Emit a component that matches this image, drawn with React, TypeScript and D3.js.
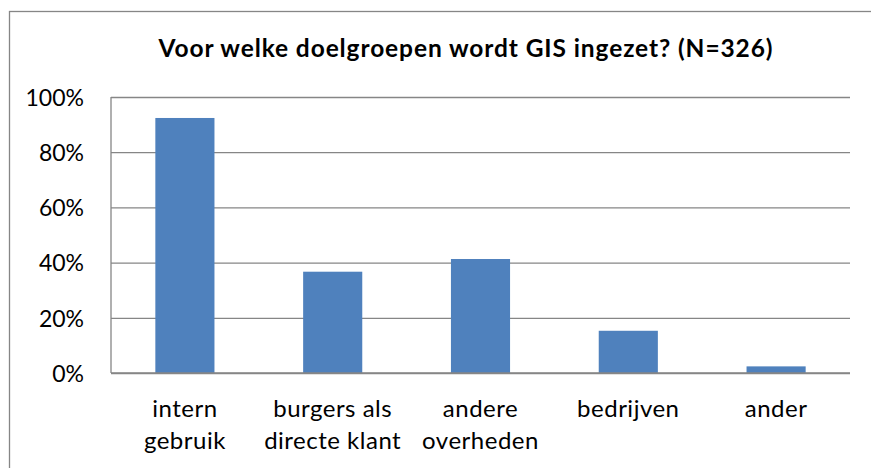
import React, { useEffect, useRef } from "react";
import * as d3 from "d3";

const categories = [
  ["intern", "gebruik"],
  ["burgers als", "directe klant"],
  ["andere", "overheden"],
  ["bedrijven"],
  ["ander"],
];
const values = [0.924, 0.367, 0.413, 0.153, 0.024];
const yTicks = [0, 0.2, 0.4, 0.6, 0.8, 1];
const title = "Voor welke doelgroepen wordt GIS ingezet? (N=326)";

const App = () => {
  const chartRef = useRef(null);
  const width = 871;
  const height = 468;
  const marginTop = 97;
  const marginBottom = 95;
  const marginLeft = 111;
  const marginRight = 21;

  useEffect(() => {
    if (!chartRef.current) return;
    const svg = d3.select(chartRef.current);
    svg.selectAll("*").remove();

    const keys = categories.map((c) => c.join(" "));
    const x = d3
      .scaleBand()
      .domain(keys)
      .range([marginLeft, width - marginRight])
      .paddingInner(0.6)
      .paddingOuter(0.3);
    const y = d3.scaleLinear([0, 1], [height - marginBottom, marginTop]);

    // outer chart border (cropped on the right and bottom)
    svg
      .append("rect")
      .attr("x", 9.5)
      .attr("y", 11.5)
      .attr("width", width + 20)
      .attr("height", height + 20)
      .attr("fill", "#fff")
      .attr("stroke", "#868686")
      .attr("stroke-width", 1.3);

    // title
    svg
      .append("text")
      .attr("x", 466)
      .attr("y", 57)
      .attr("text-anchor", "middle")
      .attr("font-family", "Lato, sans-serif")
      .attr("font-weight", "bold")
      .attr("font-size", 24.5)
      .attr("letter-spacing", 0.9)
      .attr("fill", "#000")
      .text(title);

    // y-axis with gridlines
    svg
      .append("g")
      .attr("transform", `translate(${marginLeft},0)`)
      .call(
        d3
          .axisLeft(y)
          .tickValues(yTicks)
          .tickFormat(d3.format(".0%"))
          .tickSize(0)
          .tickPadding(27)
      )
      .call((g) => g.select(".domain").remove())
      .call((g) =>
        g
          .selectAll(".tick text")
          .attr("font-family", "Lato, sans-serif")
          .attr("font-size", 23)
          .attr("fill", "#000")
          .attr("dy", "0.36em")
      )
      .call((g) =>
        g
          .selectAll(".tick")
          .append("line")
          .attr("x1", 0)
          .attr("x2", width - marginLeft - marginRight)
          .attr("stroke", "#868686")
          .attr("stroke-width", 1.3)
      );

    // vertical axis line
    svg
      .append("line")
      .attr("x1", marginLeft)
      .attr("x2", marginLeft)
      .attr("y1", y(1))
      .attr("y2", y(0))
      .attr("stroke", "#868686")
      .attr("stroke-width", 1.3);

    // bars
    svg
      .append("g")
      .selectAll("rect")
      .data(values)
      .join("rect")
      .attr("x", (d, i) => x(keys[i]))
      .attr("y", (d) => y(d))
      .attr("width", x.bandwidth())
      .attr("height", (d) => y(0) - y(d))
      .attr("fill", "#4F81BD");

    // redraw baseline over bars
    svg
      .append("line")
      .attr("x1", marginLeft)
      .attr("x2", width - marginRight)
      .attr("y1", y(0))
      .attr("y2", y(0))
      .attr("stroke", "#868686")
      .attr("stroke-width", 1.3);

    // category labels
    const labels = svg
      .append("g")
      .selectAll("text")
      .data(categories)
      .join("text")
      .attr("x", (d, i) => x(keys[i]) + x.bandwidth() / 2)
      .attr("y", y(0) + 44)
      .attr("text-anchor", "middle")
      .attr("font-family", "Lato, sans-serif")
      .attr("font-size", 24)
      .attr("letter-spacing", 0.5)
      .attr("fill", "#000");
    labels
      .selectAll("tspan")
      .data((d) => d)
      .join("tspan")
      .attr("x", function () {
        return d3.select(this.parentNode).attr("x");
      })
      .attr("dy", (d, i) => (i === 0 ? 0 : 31.5))
      .text((d) => d);
  }, []);

  return (
    <svg
      ref={chartRef}
      width={width}
      height={height}
      style={{ position: "absolute", left: 0, top: 0, background: "#fff" }}
    />
  );
};

export default App;
